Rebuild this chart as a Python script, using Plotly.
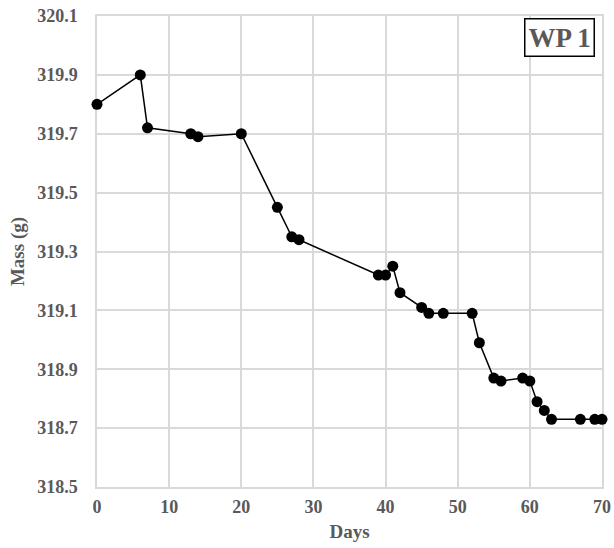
import plotly.graph_objects as go

days = [0, 6, 7, 13, 14, 20, 25, 27, 28, 39, 40, 41, 42, 45, 46, 48, 52, 53,
        55, 56, 59, 60, 61, 62, 63, 67, 69, 70]
mass = [319.80, 319.90, 319.72, 319.70, 319.69, 319.70, 319.45, 319.35, 319.34,
        319.22, 319.22, 319.25, 319.16, 319.11, 319.09, 319.09, 319.09, 318.99,
        318.87, 318.86, 318.87, 318.86, 318.79, 318.76, 318.73, 318.73, 318.73, 318.73]

x_ticks = [0, 10, 20, 30, 40, 50, 60, 70]
y_ticks = [318.5, 318.7, 318.9, 319.1, 319.3, 319.5, 319.7, 319.9, 320.1]

FONT = "Liberation Serif"
GRAY = "#595959"
GRID = "#d9d9d9"

fig = go.Figure()
fig.add_trace(go.Scatter(
    x=days, y=mass, mode="lines+markers",
    line=dict(color="black", width=1.5),
    marker=dict(color="black", size=11),
    showlegend=False, cliponaxis=False,
))

fig.update_layout(
    width=614, height=548,
    margin=dict(l=97, r=12, t=16, b=61, autoexpand=False),
    paper_bgcolor="white", plot_bgcolor="white",
    font=dict(family=FONT, color=GRAY),
    xaxis=dict(
        range=[0, 70], tickvals=x_ticks, ticktext=[f"<b>{v}</b>" for v in x_ticks],
        automargin=False, layer="below traces",
        showgrid=True, gridcolor=GRID, gridwidth=1.5,
        showline=True, linecolor=GRID, linewidth=1.5, mirror=True,
        zeroline=False, ticks="outside", ticklen=3, tickcolor="rgba(0,0,0,0)",
        tickfont=dict(family=FONT, size=18, color=GRAY),
        title=dict(text="<b>Days</b>", font=dict(family=FONT, size=19, color=GRAY), standoff=8),
    ),
    yaxis=dict(
        range=[318.5, 320.1], tickvals=y_ticks, ticktext=[f"<b>{v:.1f}</b>" for v in y_ticks],
        automargin=False, layer="below traces",
        showgrid=True, gridcolor=GRID, gridwidth=1.5,
        showline=True, linecolor=GRID, linewidth=1.5, mirror=True,
        zeroline=False, ticks="outside", ticklen=14, tickcolor="rgba(0,0,0,0)",
        tickfont=dict(family=FONT, size=18, color=GRAY),
        title=dict(text="<b>Mass (g)</b>", font=dict(family=FONT, size=19, color=GRAY), standoff=8),
    ),
    annotations=[dict(
        text="<b>WP 1</b>", xref="paper", yref="paper", x=0.916, y=0.954,
        xanchor="center", yanchor="middle", showarrow=False,
        font=dict(family=FONT, size=27, color=GRAY),
        bordercolor="black", borderwidth=1.5, borderpad=3, bgcolor="white",
    )],
)

fig.write_html("out.html")
